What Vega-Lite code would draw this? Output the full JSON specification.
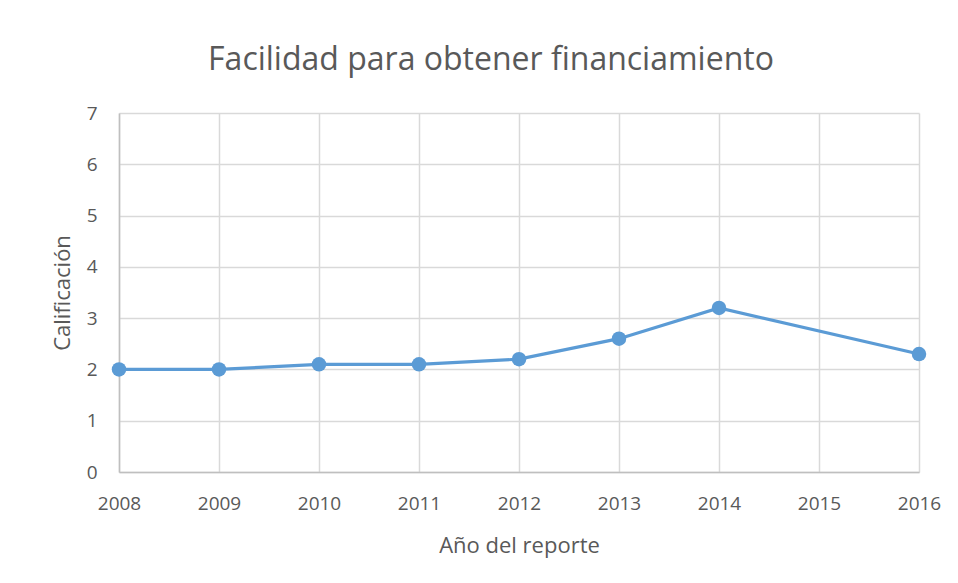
{
  "$schema": "https://vega.github.io/schema/vega-lite/v6.json",
  "autosize": "none",
  "padding": {"left": 119, "top": 113, "right": 39, "bottom": 111},
  "width": 800,
  "height": 359,
  "background": "white",
  "title": {
    "text": "Facilidad para obtener financiamiento",
    "fontSize": 32,
    "font": "Open Sans",
    "fontWeight": "normal",
    "color": "#595959",
    "anchor": "middle",
    "frame": "group",
    "dx": -28,
    "offset": 27
  },
  "config": {
    "view": {"stroke": null},
    "font": "Open Sans"
  },
  "data": {
    "values": [
      {"year": 2008, "value": 2.0},
      {"year": 2009, "value": 2.0},
      {"year": 2010, "value": 2.1},
      {"year": 2011, "value": 2.1},
      {"year": 2012, "value": 2.2},
      {"year": 2013, "value": 2.6},
      {"year": 2014, "value": 3.2},
      {"year": 2016, "value": 2.3}
    ]
  },
  "mark": {"type": "line", "color": "#5b9bd5", "strokeWidth": 3.2, "point": {"filled": true, "size": 210, "color": "#5b9bd5", "opacity": 1}},
  "encoding": {
    "x": {
      "field": "year",
      "type": "quantitative",
      "scale": {"domain": [2008, 2016], "nice": false, "zero": false},
      "axis": {
        "title": "Año del reporte",
        "values": [2008, 2009, 2010, 2011, 2012, 2013, 2014, 2015, 2016],
        "format": "d",
        "ticks": false,
        "labelFlush": false,
        "labelOverlap": false,
        "labelPadding": 22,
        "labelFontSize": 19,
        "labelColor": "#595959",
        "labelFont": "Open Sans",
        "titleFontSize": 22,
        "titleFontWeight": "normal",
        "titleColor": "#595959",
        "titlePadding": 22,
        "domainColor": "#bfbfbf",
        "domainWidth": 1.5,
        "grid": true,
        "gridColor": "#d9d9d9",
        "gridWidth": 1.5
      }
    },
    "y": {
      "field": "value",
      "type": "quantitative",
      "scale": {"domain": [0, 7], "nice": false},
      "axis": {
        "title": "Calificación",
        "values": [0, 1, 2, 3, 4, 5, 6, 7],
        "ticks": false,
        "labelFlush": false,
        "labelPadding": 22,
        "labelFontSize": 19,
        "labelColor": "#595959",
        "labelFont": "Open Sans",
        "titleFontSize": 22,
        "titleFontWeight": "normal",
        "titleColor": "#595959",
        "titlePadding": 12,
        "domainColor": "#bfbfbf",
        "domainWidth": 1.5,
        "grid": true,
        "gridColor": "#d9d9d9",
        "gridWidth": 1.5
      }
    }
  }
}
